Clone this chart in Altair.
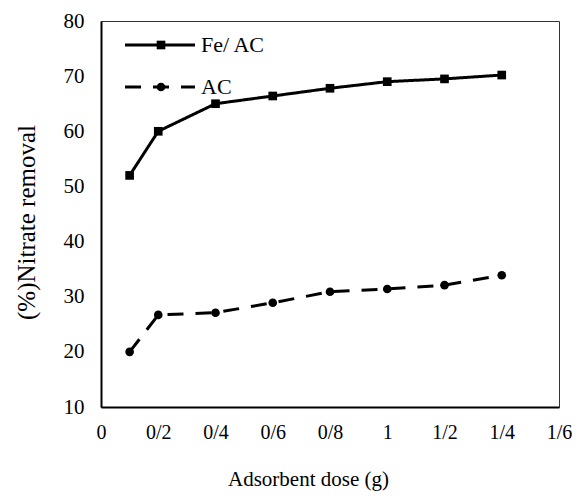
import altair as alt
import pandas as pd

dose = [0.1, 0.2, 0.4, 0.6, 0.8, 1.0, 1.2, 1.4]
fe_ac = [52.0, 60.0, 65.0, 66.4, 67.8, 69.0, 69.5, 70.2]
ac = [20.0, 26.7, 27.1, 28.9, 30.9, 31.4, 32.1, 33.9]
series_names = ["Fe/ AC", "AC"]
marker_names = ["sq", "ci"]
x_ticks = [0, 0.2, 0.4, 0.6, 0.8, 1.0, 1.2, 1.4, 1.6]
y_ticks = [10, 20, 30, 40, 50, 60, 70, 80]

df = pd.DataFrame({
    "dose": dose + dose,
    "removal": fe_ac + ac,
    "series": [series_names[0]] * len(dose) + [series_names[1]] * len(dose),
    "marker": [marker_names[0]] * len(dose) + [marker_names[1]] * len(dose),
})

FONT = "Liberation Serif"
line_path = "M-3.5,0H3.5"

dash_scale = alt.Scale(domain=series_names, range=[[1, 0], [16, 12]])
shape_scale = alt.Scale(domain=marker_names, range=["square", "circle"])

line_legend = alt.Legend(
    title=None, orient="none", legendX=24, legendY=13, padding=0,
    direction="vertical", symbolType=line_path, symbolSize=400,
    symbolOffset=23.5, labelOffset=29.5, rowPadding=20, clipHeight=22,
    labelFont=FONT, labelFontSize=22, labelColor="black",
    symbolStrokeWidth=3, symbolStrokeColor="black", symbolOpacity=1,
)
marker_legend = alt.Legend(
    title=None, orient="none", legendX=24, legendY=13, padding=0,
    direction="vertical", symbolSize=75, symbolOffset=25, labelOffset=0,
    rowPadding=20, clipHeight=22, labelFont=FONT, labelFontSize=22,
    labelExpr="''", symbolFillColor="black", symbolStrokeWidth=0,
    symbolOpacity=1,
)

xaxis = alt.Axis(
    values=x_ticks, labelExpr="replace(format(datum.value, '~g'), '.', '/')",
    ticks=False, grid=False, domainColor="black", domainWidth=2,
    labelFont=FONT, labelFontSize=20, labelColor="black", labelPadding=15,
    labelFlush=False,
    title="Adsorbent dose (g)", titleFont=FONT, titleFontSize=21,
    titleFontWeight="normal", titleColor="black", titleX=207, titleY=78,
    titleBaseline="alphabetic", titleAlign="center",
)
yaxis = alt.Axis(
    values=y_ticks, ticks=False, grid=False, domainColor="black",
    domainWidth=2, labelFont=FONT, labelFontSize=21, labelColor="black",
    labelPadding=17, labelFlush=False, title="(%)Nitrate removal",
    titleFont=FONT, titleFontSize=25, titleFontWeight="normal",
    titleColor="black", titleX=-75, titleY=201, titleBaseline="middle",
    titleAlign="center", titleAngle=270,
)

x = alt.X("dose:Q", scale=alt.Scale(domain=[0, 1.6], nice=False), axis=xaxis)
y = alt.Y("removal:Q", scale=alt.Scale(domain=[10, 80], nice=False), axis=yaxis)

base = alt.Chart(df)

lines = base.mark_line(color="black", strokeWidth=3).encode(
    x=x, y=y,
    strokeDash=alt.StrokeDash("series:N", scale=dash_scale, legend=line_legend),
)
points = base.mark_point(filled=True, size=75, color="black", opacity=1).encode(
    x=x, y=y,
    shape=alt.Shape("marker:N", scale=shape_scale, legend=marker_legend),
)

chart = alt.layer(lines, points).properties(
    width=458, height=386,
    padding={"left": 93, "top": 13, "right": 14, "bottom": 84},
    autosize=alt.AutoSizeParams(type="none"),
).configure_view(stroke="#333", strokeWidth=1).configure_axis(
    labelFont=FONT, titleFont=FONT
).configure_legend(labelFont=FONT)

chart.save("out.html", embed_options={"renderer": "svg", "actions": False})
